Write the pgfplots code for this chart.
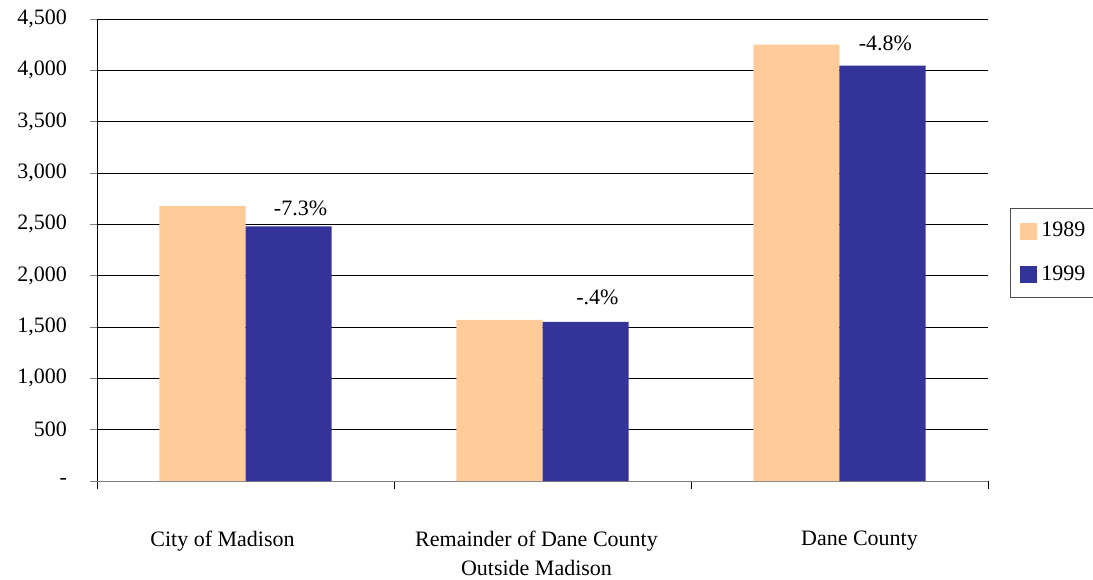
\documentclass[border=0pt]{standalone}
\usepackage{fontspec}
\setmainfont{Liberation Serif}
\usepackage{pgfplots}
\pgfplotsset{compat=1.18}
\definecolor{peach}{HTML}{FFCC99}
\definecolor{navy}{HTML}{333399}
\begin{document}
\begin{tikzpicture}
\path[use as bounding box] (0,0) rectangle (546.5pt,289.5pt);
\begin{axis}[
    at={(48.5pt,49pt)}, anchor=south west,
    scale only axis, width=445.5pt, height=231pt,
    ybar=0pt, bar width=43pt,
    xmin=-0.5, xmax=2.5, ymin=0, ymax=4500,
    axis x line*=bottom, axis y line*=left,
    x axis line style={gray, -}, y axis line style={black, -},
    xtick={0,1,2},
    xticklabels={\hspace*{-23pt}City of Madison,
        \hspace*{-6pt}Remainder of Dane County\\\hspace*{-6pt}Outside Madison,
        \hspace*{20pt}Dane County},
    minor xtick={-0.5,0.5,1.5,2.5},
    major x tick style={draw=none},
    minor x tick style={black},
    tick align=outside, minor tick length=4pt, major tick length=3.5pt,
    xticklabel style={align=center, font=\fontsize{11}{14.5}\selectfont, yshift=-18pt},
    ytick={0,500,...,4500},
    yticklabels={-,500,{1,000},{1,500},{2,000},{2,500},{3,000},{3,500},{4,000},{4,500}},
    yticklabel style={font=\fontsize{11}{12}\selectfont, xshift=-8pt},
    ymajorgrids, grid style={black, thin},
    legend style={at={(1.0247,0.591)}, anchor=north west, draw=black!70,
        font=\fontsize{11}{12}\selectfont, row sep=9pt, inner xsep=5pt, inner ysep=5pt,
        nodes={inner xsep=2pt}},
    legend image code/.code={\fill[#1] (0pt,-4.25pt) rectangle (8.5pt,4.25pt);},
    legend cell align=left,
    nodes near coords align={vertical},
    point meta=explicit symbolic,
]
\addplot[fill=peach, draw=none] coordinates {(0,2680) (1,1570) (2,4250)};
\addplot[fill=navy, draw=none,
    nodes near coords, every node near coord/.append style={font=\fontsize{11}{12}\selectfont, xshift=6pt, yshift=2pt}]
    coordinates {(0,2480) [-7.3\%] (1,1550) [\raisebox{3pt}{-.4\%}] (2,4045) [\hspace*{-9pt}\raisebox{2pt}{-4.8\%}]};
\legend{1989,1999}
\end{axis}
\end{tikzpicture}
\end{document}
